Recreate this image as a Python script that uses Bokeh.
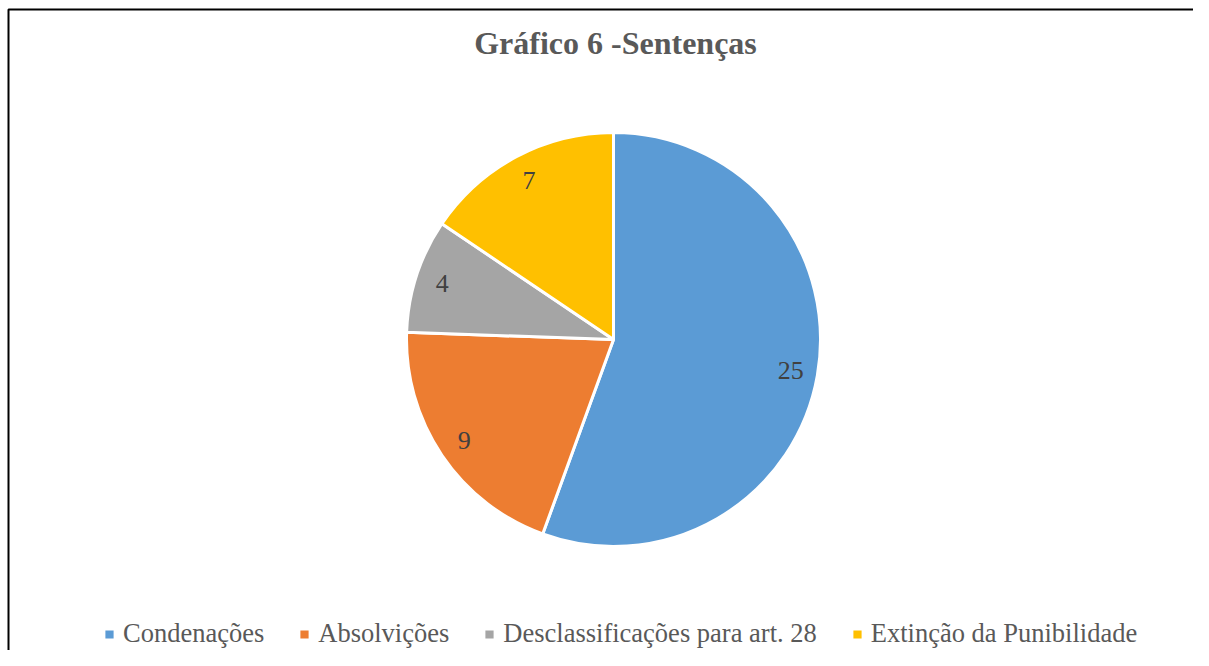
import numpy as np
from bokeh.plotting import figure
from bokeh.models import ColumnDataSource, Range1d, Label
from bokeh.core.properties import value
from bokeh.embed import file_html
from bokeh.resources import INLINE

# ---- data ----
title_text = "Gráfico 6 -Sentenças"
categories = ["Condenações", "Absolvições", "Desclassificações para art. 28", "Extinção da Punibilidade"]
values = [25, 9, 4, 7]
colors = ["#5B9BD5", "#ED7D31", "#A5A5A5", "#FFC000"]

# ---- layout ----
W, H = 1193, 650
cx, cy, r = 613, H - 339, 207
SERIF = "'Liberation Serif', 'Times New Roman', serif"

vals = np.array(values, dtype=float)
frac = vals / vals.sum()
cum = np.concatenate([[0.0], np.cumsum(frac)])
start = np.pi / 2 - 2 * np.pi * cum[:-1]
end = np.pi / 2 - 2 * np.pi * cum[1:]
mid = (start + end) / 2
lr = 0.87 * r

src = ColumnDataSource(dict(
    category=categories, value=values, color=colors,
    start=start, end=end,
    lx=cx + lr * np.cos(mid), ly=cy + lr * np.sin(mid),
    label=[str(v) for v in values],
))

p = figure(width=W, height=H, x_range=Range1d(0, W), y_range=Range1d(0, H),
           output_backend="svg", toolbar_location=None, min_border=0,
           x_axis_location=None, y_axis_location=None)
p.xgrid.visible = False
p.ygrid.visible = False
p.outline_line_color = None
p.background_fill_color = "white"
p.border_fill_color = "white"

# chart-area border (top and left visible, continues past the page edge)
p.line(x=[8, 8, W + 50], y=[-50, H - 9, H - 9], line_color="black", line_width=2)

p.wedge(x=cx, y=cy, radius=r, start_angle="start", end_angle="end", direction="clock",
        fill_color="color", line_color="white", line_width=3, source=src,
        legend_field="category")

p.text(x="lx", y="ly", text="label", source=src, text_font=value(SERIF),
       text_font_size="26px", text_color="#404040", text_align="center",
       text_baseline="middle")

title = Label(x=615, y=H - 42, text=title_text, text_font=SERIF,
              text_font_size="32px", text_font_style="bold", text_color="#595959",
              text_align="center", text_baseline="middle")
p.add_layout(title)

lg = p.legend[0]
lg.orientation = "horizontal"
lg.location = (102, 1)
lg.label_text_font = SERIF
lg.label_text_font_size = "26.5px"
lg.label_text_color = "#595959"
lg.glyph_width = 14
lg.glyph_height = 14
lg.label_standoff = 7
lg.spacing = 33
lg.padding = 0
lg.margin = 0
lg.border_line_color = None
lg.background_fill_alpha = 0

open("out.html", "w").write(file_html(p, INLINE))
